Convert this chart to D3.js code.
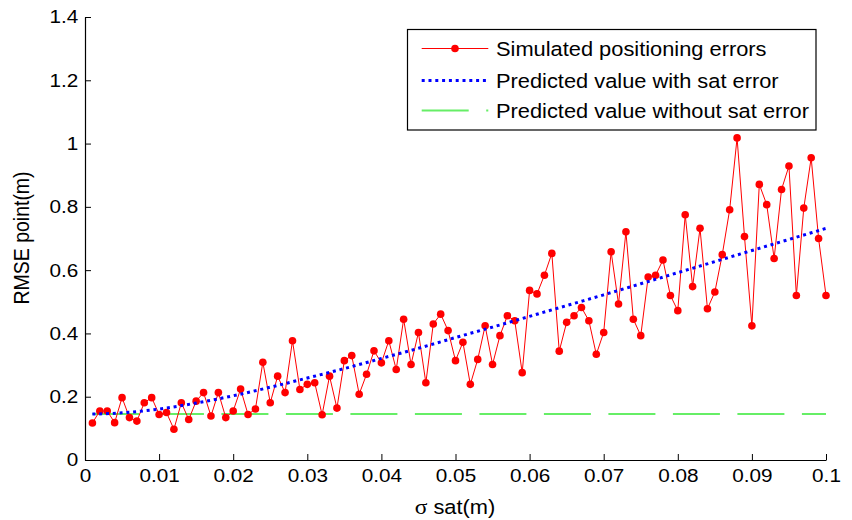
<!DOCTYPE html>
<html>
<head>
<meta charset="utf-8">
<script src="https://cdn.jsdelivr.net/npm/d3@7"></script>
<style>
  body { margin: 0; background: #fff; }
  text { font-family: "Liberation Sans", Arial, Helvetica, sans-serif; fill: #000; }
</style>
</head>
<body>
<svg id="chart" width="852" height="520"></svg>
<script>
// sigma_sat values (m)
const sigmaSat = [
  0.001,0.002,0.003,0.004,0.005,0.006,0.007,0.008,0.009,0.010,
  0.011,0.012,0.013,0.014,0.015,0.016,0.017,0.018,0.019,0.020,
  0.021,0.022,0.023,0.024,0.025,0.026,0.027,0.028,0.029,0.030,
  0.031,0.032,0.033,0.034,0.035,0.036,0.037,0.038,0.039,0.040,
  0.041,0.042,0.043,0.044,0.045,0.046,0.047,0.048,0.049,0.050,
  0.051,0.052,0.053,0.054,0.055,0.056,0.057,0.058,0.059,0.060,
  0.061,0.062,0.063,0.064,0.065,0.066,0.067,0.068,0.069,0.070,
  0.071,0.072,0.073,0.074,0.075,0.076,0.077,0.078,0.079,0.080,
  0.081,0.082,0.083,0.084,0.085,0.086,0.087,0.088,0.089,0.090,
  0.091,0.092,0.093,0.094,0.095,0.096,0.097,0.098,0.099,0.100
];

// Simulated RMSE of point positioning (m)
const simulatedRmse = [
  0.117,0.155,0.155,0.118,0.197,0.134,0.123,0.181,0.197,0.144,
  0.150,0.097,0.181,0.128,0.186,0.213,0.139,0.213,0.134,0.155,
  0.224,0.144,0.161,0.309,0.181,0.265,0.213,0.377,0.223,0.239,
  0.244,0.143,0.265,0.164,0.314,0.330,0.208,0.271,0.345,0.307,
  0.377,0.286,0.445,0.302,0.403,0.244,0.430,0.461,0.409,0.314,
  0.372,0.239,0.318,0.424,0.302,0.393,0.456,0.440,0.276,0.536,
  0.525,0.584,0.653,0.344,0.435,0.456,0.482,0.440,0.334,0.403,
  0.658,0.493,0.721,0.445,0.393,0.578,0.584,0.632,0.520,0.472,
  0.775,0.548,0.732,0.478,0.531,0.649,0.791,1.018,0.706,0.424,
  0.871,0.807,0.637,0.855,0.929,0.520,0.796,0.955,0.700,0.520
];

// Predicted RMSE including the satellite error
const predSigma = [0.001,0.005,0.010,0.015,0.020,0.025,0.030,0.035,0.040,0.045,0.050,
                   0.055,0.060,0.065,0.070,0.075,0.080,0.085,0.090,0.095,0.100];
const predWithSat = [0.145,0.149,0.161,0.180,0.203,0.230,0.259,0.289,0.321,0.353,0.387,
                     0.420,0.454,0.488,0.522,0.557,0.592,0.627,0.662,0.697,0.732];

// Predicted RMSE without the satellite error
const noSatSigma = [0.001, 0.100];
const predWithoutSat = [0.145, 0.145];

const xTicks = [0,0.01,0.02,0.03,0.04,0.05,0.06,0.07,0.08,0.09,0.1];
const xTickLabels = ["0","0.01","0.02","0.03","0.04","0.05","0.06","0.07","0.08","0.09","0.1"];
const yTicks = [0,0.2,0.4,0.6,0.8,1,1.2,1.4];
const yTickLabels = ["0","0.2","0.4","0.6","0.8","1","1.2","1.4"];

const seriesNames = ["Simulated positioning errors",
                     "Predicted value with sat error",
                     "Predicted value without sat error"];

const svg = d3.select("#chart");
const plotLeft = 85, plotRight = 826, plotTop = 17, plotBottom = 460;
const SX = 1.12; // horizontal glyph stretch used for all text

const x = d3.scaleLinear().domain([0, 0.1]).range([plotLeft, plotRight]);
const y = d3.scaleLinear().domain([0, 1.4]).range([plotBottom, plotTop]);

// Axes (ticks pointing inward)
const xAxis = d3.axisBottom(x).tickValues(xTicks)
  .tickFormat((d, i) => xTickLabels[i]).tickSizeInner(-6).tickSizeOuter(0).tickPadding(9);
const yAxis = d3.axisLeft(y).tickValues(yTicks)
  .tickFormat((d, i) => yTickLabels[i]).tickSizeInner(-6).tickSizeOuter(0).tickPadding(6);

const gx = svg.append("g").attr("transform", `translate(0,${plotBottom})`).call(xAxis);
const gy = svg.append("g").attr("transform", `translate(${plotLeft},0)`).call(yAxis);
[gx, gy].forEach(g => {
  g.selectAll("path.domain").attr("stroke", "#000").attr("stroke-width", 1.2);
  g.selectAll(".tick line").attr("stroke", "#000").attr("stroke-width", 1);
  g.selectAll(".tick text").style("font-size", "18.5px").attr("fill", "#000");
});
gx.selectAll(".tick text").attr("transform", `scale(${SX},1)`);
gy.selectAll(".tick text").attr("transform", `scale(${SX},1)`);

// Predicted without sat error (green dashed)
const lineNoSat = d3.line().x((d, i) => x(noSatSigma[i])).y(d => y(d));
svg.append("path").datum(predWithoutSat)
  .attr("d", lineNoSat).attr("fill", "none")
  .attr("stroke", "#66ee66").attr("stroke-width", 2)
  .attr("stroke-dasharray", "47,17.5");

// Simulated errors (red line with dots)
const lineSim = d3.line().x((d, i) => x(sigmaSat[i])).y(d => y(d));
svg.append("path").datum(simulatedRmse)
  .attr("d", lineSim).attr("fill", "none")
  .attr("stroke", "#ff0000").attr("stroke-width", 1);
svg.append("g").selectAll("circle").data(simulatedRmse).join("circle")
  .attr("cx", (d, i) => x(sigmaSat[i])).attr("cy", d => y(d))
  .attr("r", 3.8).attr("fill", "#ff0000");

// Predicted with sat error (blue dotted)
const linePred = d3.line().x((d, i) => x(predSigma[i])).y(d => y(d)).curve(d3.curveMonotoneX);
svg.append("path").datum(predWithSat)
  .attr("d", linePred).attr("fill", "none")
  .attr("stroke", "#0000ff").attr("stroke-width", 3)
  .attr("stroke-dasharray", "3,3.8");

// Axis titles
svg.append("text")
  .attr("transform", `translate(455,514) scale(${SX},1)`)
  .attr("text-anchor", "middle").style("font-size", "19.5px")
  .call(t => {
    t.append("tspan").style("font-family", "'Liberation Serif', 'Times New Roman', serif").style("font-size", "21px").text("σ");
    t.append("tspan").text(" sat(m)");
  });
svg.append("text")
  .attr("transform", `translate(29,238) scale(${SX},1) rotate(-90)`)
  .attr("text-anchor", "middle").style("font-size", "19.5px")
  .text("RMSE point(m)");

// Legend
const lg = svg.append("g");
lg.append("rect").attr("x", 407.5).attr("y", 29.5).attr("width", 408.5).attr("height", 100.5)
  .attr("fill", "#fff").attr("stroke", "#000").attr("stroke-width", 1.2);
const rowY = [48.5, 80.5, 110.5];
const sx0 = 421.7, sx1 = 488.3;
lg.append("line").attr("x1", sx0).attr("x2", sx1).attr("y1", rowY[0]).attr("y2", rowY[0])
  .attr("stroke", "#ff0000").attr("stroke-width", 1);
lg.append("circle").attr("cx", (sx0 + sx1) / 2).attr("cy", rowY[0]).attr("r", 3.8).attr("fill", "#ff0000");
lg.append("line").attr("x1", sx0).attr("x2", sx1).attr("y1", rowY[1]).attr("y2", rowY[1])
  .attr("stroke", "#0000ff").attr("stroke-width", 3).attr("stroke-dasharray", "3,3.8");
lg.append("line").attr("x1", sx0).attr("x2", sx1).attr("y1", rowY[2]).attr("y2", rowY[2])
  .attr("stroke", "#66ee66").attr("stroke-width", 2).attr("stroke-dasharray", "47,17.5");
seriesNames.forEach((name, i) => {
  lg.append("text")
    .attr("transform", `translate(496,${rowY[i] + 7}) scale(${SX},1)`)
    .style("font-size", "19.5px").text(name);
});
</script>
</body>
</html>
